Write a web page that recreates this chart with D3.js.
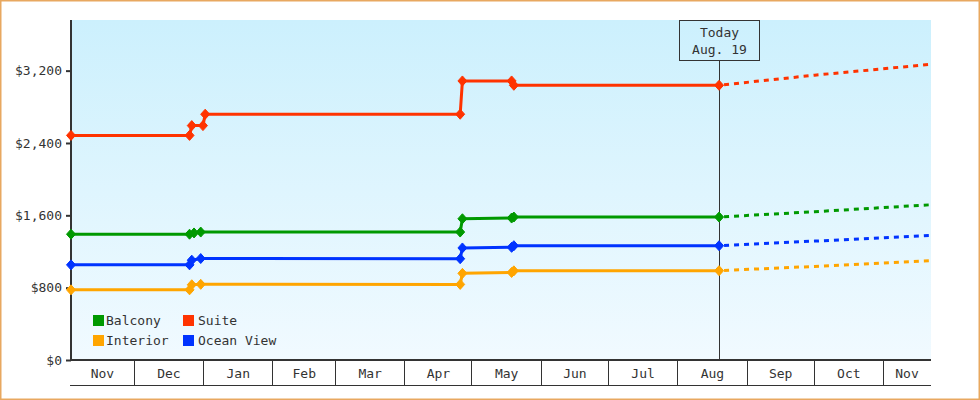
<!DOCTYPE html>
<html>
<head>
<meta charset="utf-8">
<script src="https://cdn.jsdelivr.net/npm/d3@7/dist/d3.min.js"></script>
<style>
  html, body { margin: 0; padding: 0; background: #fff; }
  svg { display: block; }
  text { font-family: "DejaVu Sans Mono", monospace; fill: #333; }
</style>
</head>
<body>
<svg id="chart" width="980" height="400"></svg>
<script>
// ---- data ----
const xStart = "2018-11-02T12:00";
const xEnd = "2019-11-22";
const todayDate = "2019-08-19";
const todayLabel = ["Today", "Aug. 19"];
const yTicks = [0, 800, 1600, 2400, 3200];
const yMax = 3760;

const seriesNames = ["Balcony", "Suite", "Interior", "Ocean View"];
const seriesColors = ["#009900", "#ff3300", "#ffa500", "#0033ff"];

const balcony = [
  ["2018-11-02T12:00", 1391], ["2018-12-25T12:00", 1391], ["2018-12-27T12:00", 1405], ["2018-12-30T12:00", 1415],
  ["2019-04-25T12:00", 1415], ["2019-04-26T12:00", 1562], ["2019-05-18T12:00", 1570], ["2019-05-19T12:00", 1581],
  ["2019-08-19T06:00", 1581]
];
const suite = [
  ["2018-11-02T12:00", 2484], ["2018-12-25T12:00", 2484], ["2018-12-26T12:00", 2592], ["2018-12-31T12:00", 2592],
  ["2019-01-01T12:00", 2718], ["2019-04-25T12:00", 2718], ["2019-04-26T12:00", 3086], ["2019-05-18T12:00", 3086],
  ["2019-05-19T12:00", 3038], ["2019-08-19T06:00", 3038]
];
const interior = [
  ["2018-11-02T12:00", 776], ["2018-12-25T12:00", 776], ["2018-12-26T12:00", 832], ["2018-12-30T12:00", 837],
  ["2019-04-25T12:00", 836], ["2019-04-26T12:00", 958], ["2019-05-18T12:00", 968], ["2019-05-19T12:00", 986],
  ["2019-08-19T06:00", 988]
];
const oceanView = [
  ["2018-11-02T12:00", 1052], ["2018-12-25T12:00", 1052], ["2018-12-26T12:00", 1104], ["2018-12-30T12:00", 1122],
  ["2019-04-25T12:00", 1120], ["2019-04-26T12:00", 1239], ["2019-05-18T12:00", 1246], ["2019-05-19T12:00", 1264],
  ["2019-08-19T06:00", 1264]
];
// forecasts (dashed)
const balconyForecast = [["2019-08-19T06:00", 1581], ["2019-10-01T00:00", 1640], ["2019-11-22T00:00", 1717]];
const suiteForecast = [["2019-08-19T06:00", 3038], ["2019-10-01T00:00", 3150], ["2019-11-22T00:00", 3270]];
const interiorForecast = [["2019-08-19T06:00", 988], ["2019-10-01T00:00", 1035], ["2019-11-22T00:00", 1099]];
const oceanViewForecast = [["2019-08-19T06:00", 1264], ["2019-10-01T00:00", 1315], ["2019-11-22T00:00", 1378]];

const seriesData = [balcony, suite, interior, oceanView];
const forecastData = [balconyForecast, suiteForecast, interiorForecast, oceanViewForecast];

// ---- chart ----
const parse = s => (s.length > 10 ? d3.timeParse("%Y-%m-%dT%H:%M")(s) : d3.timeParse("%Y-%m-%d")(s));
const svg = d3.select("#chart");
const W = 980, H = 400;
const m = { left: 71, right: 49, top: 20, bottom: 40 };
const x0 = m.left, x1 = W - m.right, y0 = H - m.bottom, y1 = m.top;

const x = d3.scaleTime().domain([parse(xStart), parse(xEnd)]).range([x0, x1]);
const y = d3.scaleLinear().domain([0, yMax]).range([y0, y1]);

// outer border
svg.append("rect").attr("x", 0.75).attr("y", 0.75).attr("width", W - 1.5).attr("height", H - 1.5)
  .attr("fill", "#fff").attr("stroke", "#e8a860").attr("stroke-width", 1.5);

// background gradient
const defs = svg.append("defs");
const grad = defs.append("linearGradient").attr("id", "bg").attr("x1", 0).attr("y1", 0).attr("x2", 0).attr("y2", 1);
grad.append("stop").attr("offset", "0%").attr("stop-color", "#ccf0fd");
grad.append("stop").attr("offset", "100%").attr("stop-color", "#f1faff");
svg.append("rect").attr("x", x0).attr("y", y1).attr("width", x1 - x0).attr("height", y0 - y1)
  .attr("fill", "url(#bg)");

// x axis (month cells)
const months = d3.timeMonth.range(d3.timeMonth.ceil(x.domain()[0]), x.domain()[1]);
const xa = svg.append("g");
xa.selectAll("line.sep").data(months).join("line")
  .attr("x1", d => Math.round(x(d)) - 0.5).attr("x2", d => Math.round(x(d)) - 0.5)
  .attr("y1", y0).attr("y2", y0 + 25).attr("stroke", "#333").attr("stroke-width", 1);
xa.append("line").attr("x1", x0 - 1).attr("x2", x1).attr("y1", y0 + 25.5).attr("y2", y0 + 25.5)
  .attr("stroke", "#333").attr("stroke-width", 1);
const bounds = [x.domain()[0], ...months, x.domain()[1]];
const cells = d3.pairs(bounds);
xa.selectAll("text").data(cells).join("text")
  .attr("x", d => (x(d[0]) + x(d[1])) / 2 - 0.5)
  .attr("y", y0 + 18)
  .attr("text-anchor", "middle").attr("font-size", 13)
  .text(d => d3.timeFormat("%b")(d3.timeDay.offset(d[0], 3)));

// today marker
const tx = Math.round(x(parse(todayDate + "T06:00"))) + 0.5;
svg.append("line").attr("x1", tx).attr("x2", tx)
  .attr("y1", 60.5).attr("y2", y0).attr("stroke", "#333").attr("stroke-width", 1);
svg.append("rect").attr("x", tx - 40).attr("y", 20.5).attr("width", 80).attr("height", 40)
  .attr("fill", "none").attr("stroke", "#333").attr("stroke-width", 1);
svg.append("text").attr("x", tx).attr("y", 37).attr("text-anchor", "middle")
  .attr("font-size", 13).text(todayLabel[0]);
svg.append("text").attr("x", tx).attr("y", 54).attr("text-anchor", "middle")
  .attr("font-size", 13).text(todayLabel[1]);

// y axis
const ya = svg.append("g").attr("transform", `translate(${x0},0)`)
  .call(d3.axisLeft(y).tickValues(yTicks).tickFormat(d3.format("$,")).tickSize(5).tickSizeOuter(0).tickPadding(4));
ya.select(".domain").remove();
ya.selectAll(".tick line").attr("stroke", "#333").attr("stroke-width", 2);
ya.selectAll(".tick text").attr("font-size", 13).attr("font-family", "DejaVu Sans Mono, monospace").attr("fill", "#333");
svg.append("line").attr("x1", x0).attr("x2", x0).attr("y1", y1).attr("y2", y0 + 1)
  .attr("stroke", "#333").attr("stroke-width", 2);
svg.append("line").attr("x1", x0 - 1).attr("x2", x1).attr("y1", y0).attr("y2", y0)
  .attr("stroke", "#333").attr("stroke-width", 2);

// lines
const line = d3.line().x(d => x(parse(d[0]))).y(d => y(d[1]));
forecastData.forEach((s, i) => {
  svg.append("path").attr("d", line(s)).attr("fill", "none")
    .attr("stroke", seriesColors[i]).attr("stroke-width", 3).attr("stroke-dasharray", "5,5")
    .attr("stroke-dashoffset", -5);
});
seriesData.forEach((s, i) => {
  svg.append("path").attr("d", line(s)).attr("fill", "none")
    .attr("stroke", seriesColors[i]).attr("stroke-width", 3).attr("stroke-linejoin", "round");
  svg.append("g").selectAll("path").data(s).join("path")
    .attr("transform", d => `translate(${x(parse(d[0]))},${y(d[1])})`)
    .attr("d", "M0,-5L4.5,0L0,5L-4.5,0Z")
    .attr("fill", seriesColors[i]).attr("stroke", seriesColors[i]).attr("stroke-width", 1)
    .attr("stroke-linejoin", "round");
});

// legend
const lg = svg.append("g");
seriesNames.forEach((n, i) => {
  const col = i % 2, row = Math.floor(i / 2);
  const lx = 93 + col * 90, ly = 315 + row * 20;
  lg.append("rect").attr("x", lx).attr("y", ly).attr("width", 11).attr("height", 11).attr("fill", seriesColors[i]);
  lg.append("text").attr("x", lx + 13 + col * 2).attr("y", ly + 10).attr("font-size", 13).text(n);
});
</script>
</body>
</html>
